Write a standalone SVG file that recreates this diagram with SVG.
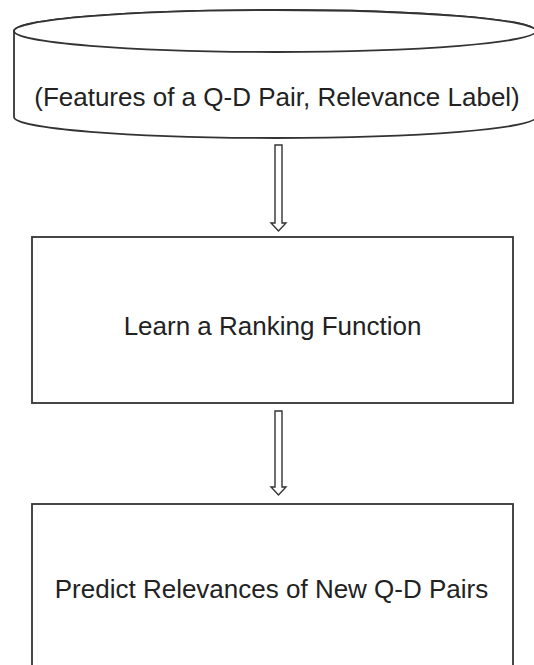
<svg xmlns="http://www.w3.org/2000/svg" width="534" height="665" viewBox="0 0 534 665">
<style>
.shape{fill:#fff;stroke:#333;stroke-width:1.8}
.arrow{fill:#fff;stroke:#333;stroke-width:1.4;stroke-linejoin:miter}
.lbl{font-family:"Liberation Sans",Arial,sans-serif;font-size:26px;fill:#222;text-anchor:middle}
</style>
<rect width="534" height="665" fill="#fff"/>
<g id="node-data">
<path class="shape" d="M14,31 L14,117 A261,21 0 0 0 536,117 L536,31 A261,21 0 0 0 14,31 Z"/>
<ellipse class="shape" cx="275" cy="31" rx="261" ry="21"/>
<text class="lbl" x="277" y="106">(Features of a Q-D Pair, Relevance Label)</text>
</g>
<g id="node-learn">
<rect class="shape" x="32" y="237" width="481" height="166"/>
<text class="lbl" x="272.5" y="335">Learn a Ranking Function</text>
</g>
<g id="node-predict">
<rect class="shape" x="32" y="504" width="481" height="200"/>
<text class="lbl" x="271.5" y="598">Predict Relevances of New Q-D Pairs</text>
</g>
<g id="connectors">
<path class="arrow" d="M275,145 L282,145 L282,223 L286,223 L278.5,231 L271,223 L275,223 Z"/>
<path class="arrow" d="M275,411 L282,411 L282,487 L286,487 L278.5,495 L271,487 L275,487 Z"/>
</g>
</svg>
